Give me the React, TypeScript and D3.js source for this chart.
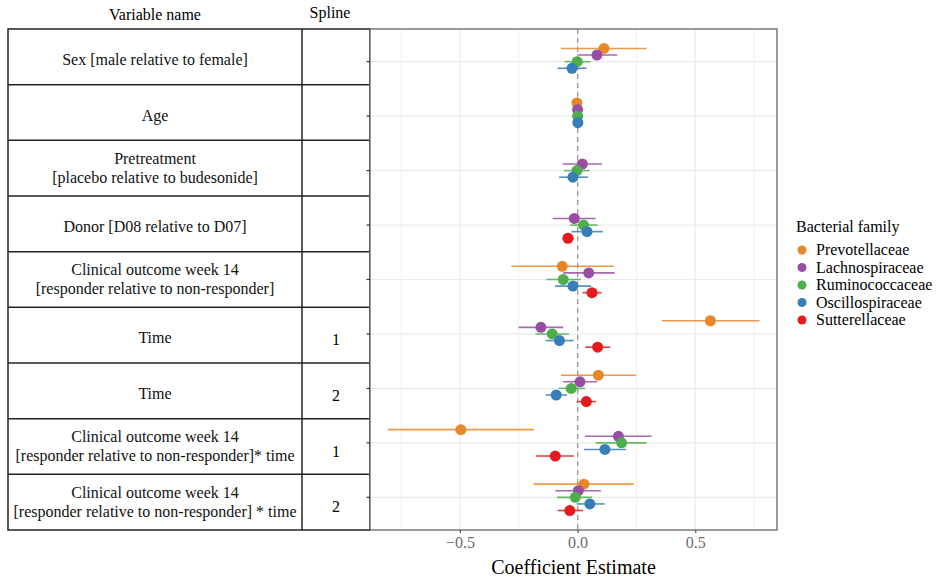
import React, { useEffect, useRef } from 'react';
import * as d3 from 'd3';

const variables = [
  ['Sex [male relative to female]'],
  ['Age'],
  ['Pretreatment', '[placebo relative to budesonide]'],
  ['Donor [D08 relative to D07]'],
  ['Clinical outcome week 14', '[responder relative to non-responder]'],
  ['Time'],
  ['Time'],
  ['Clinical outcome week 14', '[responder relative to non-responder]* time'],
  ['Clinical outcome week 14', '[responder relative to non-responder] * time'],
];
const splines = ['', '', '', '', '', '1', '2', '1', '2'];

const families = ['Prevotellaceae', 'Lachnospiraceae', 'Ruminococcaceae', 'Oscillospiraceae', 'Sutterellaceae'];
const familyColors = ['#E8872A', '#984EA3', '#4DAF4A', '#377EB8', '#E41A1C'];

// estimate per variable row, null = not estimated
const prevotellaEst = [0.112, -0.003, null, null, -0.065, 0.564, 0.088, -0.496, 0.027];
const prevotellaLo = [-0.071, -0.008, null, null, -0.282, 0.358, -0.071, -0.805, -0.187];
const prevotellaHi = [0.293, 0.002, null, null, 0.153, 0.773, 0.248, -0.186, 0.239];

const lachnoEst = [0.082, 0.0, 0.02, -0.014, 0.047, -0.156, 0.01, 0.173, 0.003];
const lachnoLo = [0.0, -0.004, -0.064, -0.106, -0.061, -0.251, -0.061, 0.031, -0.095];
const lachnoHi = [0.168, 0.004, 0.103, 0.076, 0.157, -0.061, 0.083, 0.314, 0.099];

const rumiEst = [-0.002, 0.0, -0.003, 0.025, -0.061, -0.108, -0.027, 0.187, -0.01];
const rumiLo = [-0.055, -0.004, -0.058, -0.031, -0.133, -0.18, -0.081, 0.076, -0.087];
const rumiHi = [0.055, 0.004, 0.051, 0.085, 0.014, -0.036, 0.031, 0.293, 0.062];

const oscilloEst = [-0.024, 0.001, -0.02, 0.04, -0.02, -0.077, -0.091, 0.116, 0.052];
const oscilloLo = [-0.085, -0.003, -0.079, -0.026, -0.096, -0.136, -0.136, 0.027, -0.004];
const oscilloHi = [0.038, 0.005, 0.044, 0.107, 0.058, -0.017, -0.045, 0.207, 0.115];

const sutterEst = [null, null, null, -0.041, 0.061, 0.085, 0.037, -0.095, -0.033];
const sutterLo = [null, null, null, -0.064, 0.021, 0.032, -0.004, -0.177, -0.085];
const sutterHi = [null, null, null, -0.016, 0.102, 0.139, 0.078, -0.016, 0.023];

const xTicks = [-0.5, 0, 0.5];
const xMinor = [-0.75, -0.25, 0.25, 0.75];

const FONT = '"Liberation Serif", "DejaVu Serif", serif';

const App = () => {
  const svgRef = useRef<SVGSVGElement>(null);

  useEffect(() => {
    const svg = d3.select(svgRef.current);
    svg.selectAll('*').remove();

    const panel = { left: 370, right: 777, top: 29, bottom: 530 };
    const tableLeft = 8;
    const splineLeft = 302;

    const x = d3.scaleLinear().domain([-0.882, 0.847]).range([panel.left, panel.right]);
    const rowIdx = variables.map((_, i) => i);
    // table rows
    const row = d3.scaleBand<number>().domain(rowIdx).range([panel.top, panel.bottom]);
    // plot rows (discrete axis with ggplot-like expansion)
    const y = d3.scalePoint<number>().domain(rowIdx).range([panel.top, panel.bottom]).padding(0.6);
    const dodge = d3.scalePoint<number>().domain([0, 1, 2, 3, 4]).range([-13.2, 13.2]);

    const series = [
      { est: prevotellaEst, lo: prevotellaLo, hi: prevotellaHi },
      { est: lachnoEst, lo: lachnoLo, hi: lachnoHi },
      { est: rumiEst, lo: rumiLo, hi: rumiHi },
      { est: oscilloEst, lo: oscilloLo, hi: oscilloHi },
      { est: sutterEst, lo: sutterLo, hi: sutterHi },
    ];
    const points: { s: number; r: number; est: number; lo: number; hi: number }[] = [];
    series.forEach((sr, s) => {
      sr.est.forEach((e, r) => {
        if (e === null) return;
        points.push({ s, r, est: e, lo: sr.lo[r] as number, hi: sr.hi[r] as number });
      });
    });

    // headers
    svg.append('text').attr('x', 155).attr('y', 20).attr('text-anchor', 'middle')
      .style('font-family', FONT).style('font-size', '16px').text('Variable name');
    svg.append('text').attr('x', 330).attr('y', 18).attr('text-anchor', 'middle')
      .style('font-family', FONT).style('font-size', '16px').text('Spline');

    // table
    const table = svg.append('g');
    table.append('rect').attr('x', tableLeft).attr('y', panel.top)
      .attr('width', panel.left - tableLeft).attr('height', panel.bottom - panel.top)
      .attr('fill', 'none').attr('stroke', '#222').attr('stroke-width', 1.5);
    table.append('line').attr('x1', splineLeft).attr('x2', splineLeft)
      .attr('y1', panel.top).attr('y2', panel.bottom).attr('stroke', '#222').attr('stroke-width', 1.5);
    rowIdx.slice(1).forEach(i => {
      table.append('line').attr('x1', tableLeft).attr('x2', panel.left)
        .attr('y1', row(i)!).attr('y2', row(i)!).attr('stroke', '#222').attr('stroke-width', 1.5);
    });
    variables.forEach((lines, i) => {
      const cy = row(i)! + row.bandwidth() / 2;
      const t = table.append('text').attr('text-anchor', 'middle')
        .style('font-family', FONT).style('font-size', '16px').attr('fill', '#111');
      lines.forEach((ln, j) => {
        const dy = lines.length === 1 ? cy + 8 : cy + 5 + (j - 0.5) * 19;
        t.append('tspan').attr('x', (tableLeft + splineLeft) / 2).attr('y', dy).text(ln);
      });
      if (splines[i]) {
        table.append('text').attr('x', (splineLeft + panel.left) / 2).attr('y', cy + 10)
          .attr('text-anchor', 'middle').style('font-family', FONT).style('font-size', '16px')
          .text(splines[i]);
      }
    });

    // panel
    const g = svg.append('g');
    g.append('rect').attr('x', panel.left).attr('y', panel.top)
      .attr('width', panel.right - panel.left).attr('height', panel.bottom - panel.top)
      .attr('fill', '#fff');
    g.selectAll('.minor').data(xMinor).enter().append('line')
      .attr('x1', d => x(d)).attr('x2', d => x(d))
      .attr('y1', panel.top).attr('y2', panel.bottom)
      .attr('stroke', '#f0f0f0').attr('stroke-width', 1);
    g.selectAll('.major').data(xTicks).enter().append('line')
      .attr('x1', d => x(d)).attr('x2', d => x(d))
      .attr('y1', panel.top).attr('y2', panel.bottom)
      .attr('stroke', '#ebebeb').attr('stroke-width', 1.2);
    g.selectAll('.hgrid').data(rowIdx).enter().append('line')
      .attr('x1', panel.left).attr('x2', panel.right)
      .attr('y1', d => y(d)!).attr('y2', d => y(d)!)
      .attr('stroke', '#ebebeb').attr('stroke-width', 1.2);
    g.append('line').attr('x1', x(0)).attr('x2', x(0)).attr('y1', panel.top).attr('y2', panel.bottom)
      .attr('stroke', '#999').attr('stroke-width', 1.3).attr('stroke-dasharray', '5,4');

    // error bars and points
    g.selectAll('.ci').data(points).enter().append('line')
      .attr('x1', d => x(d.lo)).attr('x2', d => x(d.hi))
      .attr('y1', d => y(d.r)! + dodge(d.s)!)
      .attr('y2', d => y(d.r)! + dodge(d.s)!)
      .attr('stroke', d => familyColors[d.s]).attr('stroke-width', 1.6).attr('stroke-opacity', 0.85);
    g.selectAll('.pt').data(points).enter().append('circle')
      .attr('cx', d => x(d.est))
      .attr('cy', d => y(d.r)! + dodge(d.s)!)
      .attr('r', 5.5)
      .attr('fill', d => familyColors[d.s]);

    g.append('rect').attr('x', panel.left).attr('y', panel.top)
      .attr('width', panel.right - panel.left).attr('height', panel.bottom - panel.top)
      .attr('fill', 'none').attr('stroke', '#666').attr('stroke-width', 1.3);

    // y ticks (no labels)
    g.selectAll('.ytick').data(rowIdx).enter().append('line')
      .attr('x1', panel.left - 3.5).attr('x2', panel.left)
      .attr('y1', d => y(d)!).attr('y2', d => y(d)!)
      .attr('stroke', '#333').attr('stroke-width', 1.2);

    // x axis
    const xAxis = d3.axisBottom(x).tickValues(xTicks).tickSize(3).tickPadding(4)
      .tickFormat(d => d3.format('.1f')(d as number).replace('-', '\u2212'));
    const ax = svg.append('g').attr('transform', `translate(0, ${panel.bottom})`).call(xAxis);
    ax.select('.domain').remove();
    ax.selectAll('line').attr('stroke', '#333');
    ax.selectAll('text').style('font-family', FONT).style('font-size', '16px').attr('fill', '#6b6b6b');
    svg.append('text').attr('x', (panel.left + panel.right) / 2).attr('y', 574)
      .attr('text-anchor', 'middle').style('font-family', FONT).style('font-size', '20px')
      .text('Coefficient Estimate');

    // legend
    const lg = svg.append('g').attr('transform', 'translate(796, 0)');
    lg.append('text').attr('x', 0).attr('y', 232).style('font-family', FONT).style('font-size', '16px')
      .text('Bacterial family');
    families.forEach((f, i) => {
      const cy = 250 + i * 17.5;
      lg.append('circle').attr('cx', 6).attr('cy', cy).attr('r', 4.5).attr('fill', familyColors[i]);
      lg.append('text').attr('x', 20).attr('y', cy + 5).style('font-family', FONT).style('font-size', '16px')
        .text(f);
    });
  }, []);

  return <svg ref={svgRef} width="947" height="580" style={{ display: 'block', position: 'absolute', left: 0, top: 0 }}></svg>;
};

export default App;
